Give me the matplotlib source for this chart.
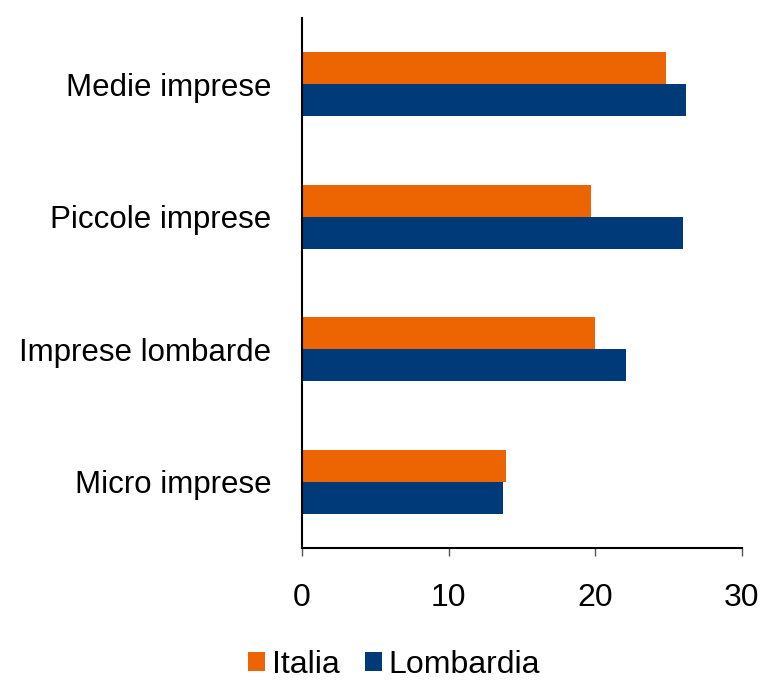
import numpy as np
import matplotlib
matplotlib.use("Agg")
import matplotlib.pyplot as plt

plt.rcParams['font.family'] = ['Liberation Sans', 'DejaVu Sans']

categories = ["Micro imprese", "Imprese lombarde", "Piccole imprese", "Medie imprese"]
italia = [13.9, 20.0, 19.7, 24.8]
lombardia = [13.7, 22.1, 26.0, 26.2]

c_ita = "#ED6402"
c_lom = "#003A78"

fig = plt.figure(figsize=(7.63, 6.82), dpi=100)
ax = fig.add_axes([302/763, 1 - 548/682, 440/763, 530/682])

y = np.arange(len(categories))
h = 0.24
ax.barh(y + h/2, italia, height=h, color=c_ita, label="Italia")
ax.barh(y - h/2, lombardia, height=h, color=c_lom, label="Lombardia")

ax.set_xlim(0, 30)
ax.set_ylim(-0.5, 3.5)
ax.set_xticks([0, 10, 20, 30])
ax.set_yticks(y)
ax.set_yticklabels(categories)

for s in ["top", "right"]:
    ax.spines[s].set_visible(False)
for s in ["left", "bottom"]:
    ax.spines[s].set_linewidth(1.5)
    ax.spines[s].set_color("black")

ax.tick_params(axis="y", length=0, pad=22, labelsize=22.5)
ax.tick_params(axis="x", length=6, width=1, color="#555555", direction="out", pad=19, labelsize=23)

fig.legend(loc="center", bbox_to_anchor=(394/763, 1 - 665/682), ncol=2, frameon=False,
           fontsize=23, handlelength=0.55, handleheight=0.55, handletextpad=0.2,
           columnspacing=0.8, borderpad=0.1)

fig.savefig("out.png", dpi=100)
